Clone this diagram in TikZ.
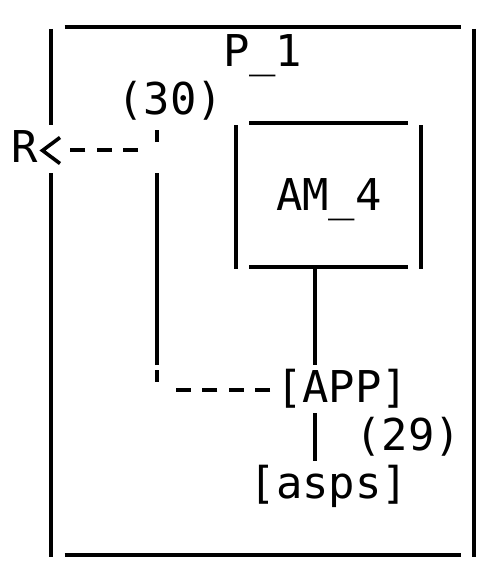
\documentclass[tikz,border=0pt]{standalone}
\usepackage{fontspec}
\newfontfamily\monofont{DejaVu Sans Mono}
\begin{document}
\begin{tikzpicture}[x=1pt,y=-1pt,
  lbl/.style={inner sep=0pt,anchor=base west,font=\monofont\fontsize{43.85}{48}\selectfont},
  bar/.style={line width=4pt,black},
  dashline/.style={line width=4pt,black,dash pattern=on 15pt off 11.4pt},
  chev/.style={line width=3.6pt,black,line join=miter}]
\useasboundingbox (0,0) rectangle (486,583);
% text nodes
\node[lbl] (R)    at (11.8,162.7)  {R};
\node[lbl] (P1)   at (223,66.7)    {P\_1};
\node[lbl] (n30)  at (117.4,114.7) {(30)};
\node[lbl] (AM4)  at (275.8,210.7) {AM\_4};
\node[lbl] (APP)  at (275.8,402.7) {[APP]};
\node[lbl] (n29)  at (355,450.7)   {(29)};
\node[lbl] (asps) at (249.4,498.7) {[asps]};
% coordinates
\coordinate (otl) at (64.6,27);  \coordinate (otr) at (460.6,27);
\coordinate (obl) at (64.6,555); \coordinate (obr) at (460.6,555);
\coordinate (ol1) at (51.4,29);  \coordinate (ol2) at (51.4,125);
\coordinate (ol3) at (51.4,173); \coordinate (ol4) at (51.4,557);
\coordinate (or1) at (473.8,29); \coordinate (or2) at (473.8,557);
\coordinate (atl) at (249.4,123); \coordinate (atr) at (407.8,123);
\coordinate (abl) at (249.4,267); \coordinate (abr) at (407.8,267);
\coordinate (al1) at (236.2,125); \coordinate (al2) at (236.2,269);
\coordinate (ar1) at (421,125);   \coordinate (ar2) at (421,269);
\coordinate (AMout) at (315.4,269); \coordinate (APPin) at (315.4,365);
\coordinate (APPout) at (315.4,413); \coordinate (aspsin) at (315.4,461);
\coordinate (t1a) at (157,130); \coordinate (t1b) at (157,142);
\coordinate (v1) at (157,173);  \coordinate (v2) at (157,365);
\coordinate (t2a) at (157,370); \coordinate (t2b) at (157,382);
\coordinate (d1a) at (70.3,150); \coordinate (d1b) at (138.1,150);
\coordinate (d2a) at (175.9,390); \coordinate (d2b) at (270.1,390);
\coordinate (chA) at (60,137.5); \coordinate (chT) at (42.5,150.5); \coordinate (chB) at (60,163.5);
% outer box P_1
\draw[bar] (otl) -- (otr);
\draw[bar] (obl) -- (obr);
\draw[bar] (ol1) -- (ol2);
\draw[bar] (ol3) -- (ol4);
\draw[bar] (or1) -- (or2);
% AM_4 box
\draw[bar] (atl) -- (atr);
\draw[bar] (abl) -- (abr);
\draw[bar] (al1) -- (al2);
\draw[bar] (ar1) -- (ar2);
% solid connectors
\draw[bar] (AMout) -- (APPin);
\draw[bar] (APPout) -- (aspsin);
% dashed connector APP -> R
\draw[dashline] (d2b) -- (d2a);
\draw[bar,line width=3.6pt] (t2a) -- (t2b);
\draw[bar] (v2) -- (v1);
\draw[bar,line width=3.6pt] (t1b) -- (t1a);
\draw[dashline] (d1b) -- (d1a);
\draw[chev] (chA) -- (chT) -- (chB);
\end{tikzpicture}
\end{document}
